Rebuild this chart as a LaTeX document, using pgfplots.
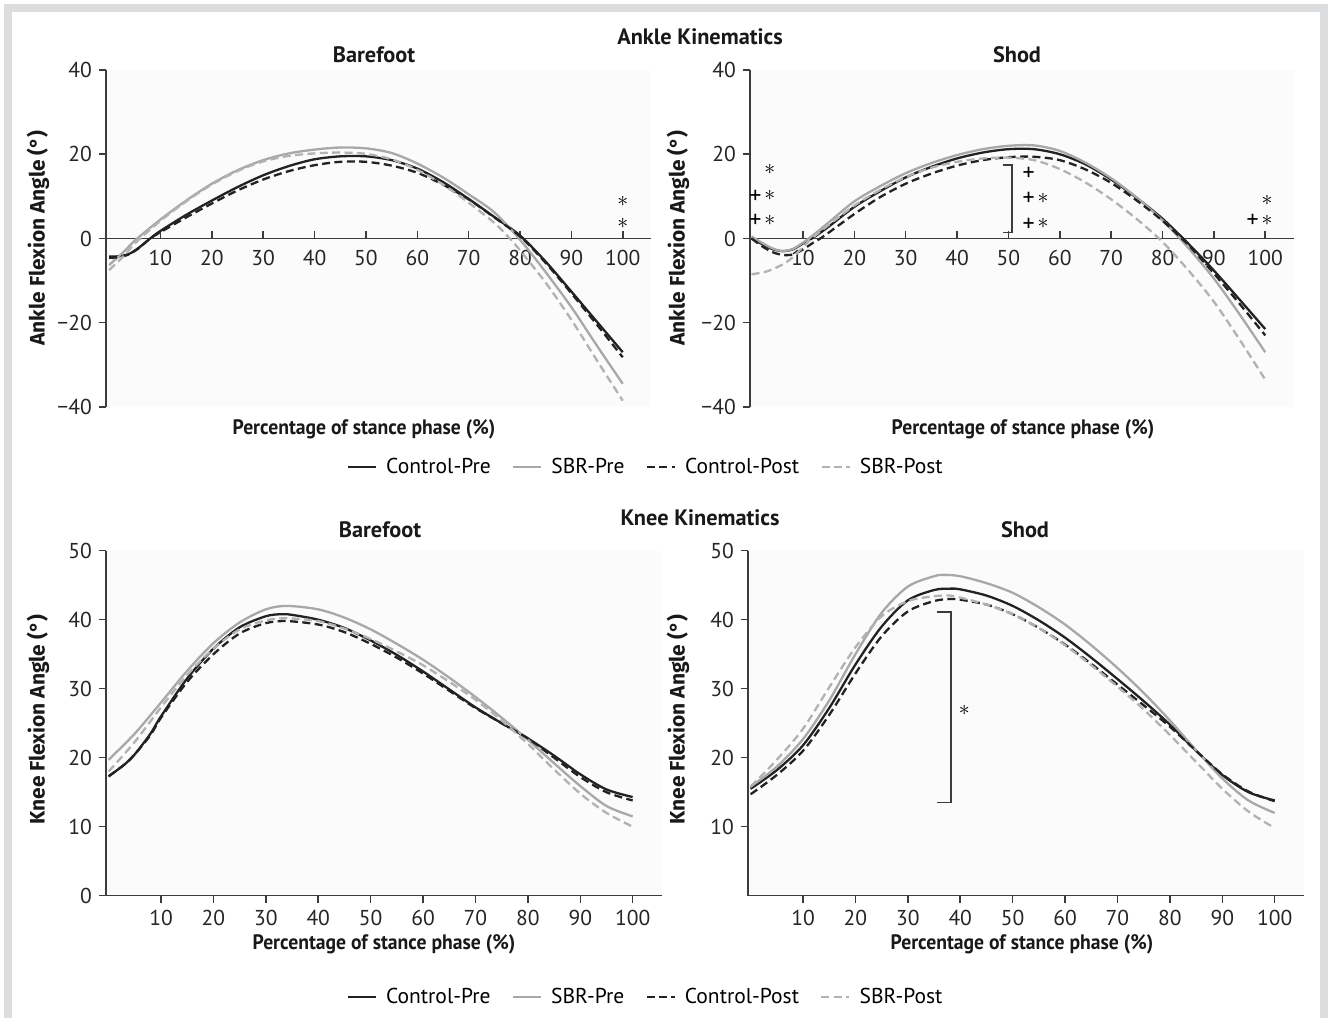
\documentclass[border=0pt]{standalone}
\usepackage{fontspec}
\setmainfont{PT Sans}
\newfontfamily\lab{PT Sans}[FakeStretch=0.94]
\newfontfamily\ylab{Fira Sans}
\usepackage{pgfplots}
\pgfplotsset{compat=1.18}

\definecolor{ctl}{HTML}{222222}
\definecolor{sbr}{HTML}{A8A8A8}
\definecolor{sbrd}{HTML}{B2B2B2}
\definecolor{axisc}{HTML}{3C3C3C}
\definecolor{framec}{HTML}{DCDDDF}

% significance marks
\newcommand{\st}{\raisebox{1.2bp}{\fontsize{11}{12}\selectfont$\ast$}}
\newcommand{\pl}{{\fontsize{12}{12}\selectfont +}}
\newcommand{\ps}{\pl\hspace{1.5bp}\st}

\pgfplotsset{
  kin/.style={
    scale only axis,
    axis background/.style={fill=black!1.5},
    tick style={axisc, line width=0.75bp},
    major tick length=3.6bp,
    tick label style={font=\fontsize{10.8}{12}\selectfont, text=black!85},
    /pgf/number format/assume math mode=true,
    hide obscured x ticks=false, hide obscured y ticks=false,
    xtick={10,20,...,100},
    xmin=-0.6, xmax=105.5,
  },
  nolinearrows/.style={
    axis line style={axisc, line width=0.75bp, -},
    x axis line style={-}, y axis line style={-},
    every inner x axis line/.append style={-},
    every inner y axis line/.append style={-},
    every outer x axis line/.append style={-},
    every outer y axis line/.append style={-},
  },
  ankle/.style={kin,
    height=168.5bp,
    ymin=-40, ymax=40,
    ytick={-40,-20,0,20,40}, yticklabels={−40,−20,0,20,40},
    axis x line=middle, axis y line=left,
    nolinearrows,
    xtick align=inside, ytick align=outside,
    xticklabel style={yshift=-2.5bp},
  },
  knee/.style={kin,
    height=172.5bp, width=278bp,
    ymin=0, ymax=50,
    axis x line=bottom, axis y line=left,
    nolinearrows,
    tick align=outside,
  },
  cpre/.style={ctl, line width=1.15bp, smooth},
  spre/.style={sbr, line width=1.15bp, smooth},
  cpost/.style={ctl, line width=1.15bp, dash pattern=on 4bp off 2.2bp, smooth},
  spost/.style={sbrd, line width=1.15bp, dash pattern=on 4bp off 2.2bp, smooth},
  leg/.style={legend columns=4,
    legend style={draw=none, fill=none, font=\fontsize{10.8}{12}\selectfont,
      /tikz/every odd column/.append style={column sep=2.5bp},
      /tikz/every even column/.append style={column sep=8.5bp}},
    legend image code/.code={\draw[##1, line width=1.3bp] (0bp,0bp) -- (14bp,0bp);},
  },
}

\begin{document}
\begin{tikzpicture}
\useasboundingbox (0,0) rectangle (665bp,509bp);
\fill[white] (0,0) rectangle (665bp,509bp);
\draw[framec, line width=4bp] (4bp,0) -- (4bp,505bp) -- (661.8bp,505bp) -- (661.8bp,0);

% ---------- Ankle, barefoot ----------
\begin{axis}[ankle, width=272.5bp, at={(53bp,305.5bp)}, anchor=south west, leg,
  legend style={at={(axis description cs:0.992,-0.178)}, anchor=center}]
\addplot[cpre] coordinates {(0,-4.3)(2,-4.2)(4,-3.6)(6,-2.0)(8,0)(10,1.8)(15,5.6)(20,9.0)(25,12.2)(30,15.0)(35,17.2)(40,18.8)(45,19.5)(50,19.5)(55,18.6)(60,16.6)(65,13.4)(70,9.4)(75,5.1)(80,0.7)(85,-5.5)(90,-12.6)(95,-19.8)(100,-27)};
\addlegendentry{Control-Pre}
\addplot[spre] coordinates {(0,-6.3)(3,-3)(5,-0.5)(10,4.5)(15,9.0)(20,13.0)(25,16.2)(30,18.6)(35,20.2)(40,21.1)(45,21.6)(50,21.4)(55,20.3)(60,17.8)(65,14.5)(70,10.5)(75,6.2)(80,-0.3)(85,-8.0)(90,-16.3)(95,-25.5)(100,-34.5)};
\addlegendentry{SBR-Pre}
\addplot[cpost] coordinates {(0,-4.6)(2,-4.4)(4,-3.7)(6,-2.1)(8,0)(10,1.5)(15,5.0)(20,8.3)(25,11.4)(30,14.0)(35,16.0)(40,17.4)(45,18.2)(50,18.2)(55,17.3)(60,15.6)(65,12.8)(70,9.3)(75,5.0)(80,0.5)(85,-5.8)(90,-13)(95,-20.5)(100,-28.2)};
\addlegendentry{Control-Post}
\addplot[spost] coordinates {(0,-7.5)(3,-4)(5,-1.2)(10,4.2)(15,8.8)(20,12.8)(25,16.0)(30,18.3)(35,19.6)(40,20.2)(45,20.4)(50,20.1)(55,18.8)(60,16.3)(65,12.8)(70,8.5)(75,3.7)(78,0)(80,-2.8)(85,-10.5)(90,-19.3)(95,-29)(100,-38.5)};
\addlegendentry{SBR-Post}
\node at (axis cs:100,8.4) {\st};
\node at (axis cs:100,3.3) {\st};
\end{axis}

% ---------- Ankle, shod ----------
\begin{axis}[ankle, width=272bp, at={(375bp,305.5bp)}, anchor=south west, xmin=-0.3, xmax=105.6]
\addplot[cpre] coordinates {(0,0)(2,-1.3)(4,-2.5)(6,-3.0)(8,-2.6)(10,-1.2)(12,0.2)(15,2.8)(20,7.5)(25,11.2)(30,14.5)(35,17.0)(40,19.0)(45,20.4)(50,21.2)(55,21.2)(60,20.0)(65,17.6)(70,14.0)(75,9.6)(80,4.7)(85,-1.2)(90,-7.6)(95,-14.5)(100,-21.5)};
\addplot[spre] coordinates {(0,0.5)(2,-1.0)(4,-2.3)(6,-3.0)(8,-2.5)(10,-1.0)(12,0.8)(15,3.8)(20,8.8)(25,12.4)(30,15.5)(35,17.9)(40,19.8)(45,21.2)(50,22.0)(55,22.1)(60,20.8)(65,18.0)(70,14.3)(75,9.7)(80,4.3)(85,-2.2)(90,-9.5)(95,-18)(100,-27)};
\addplot[cpost] coordinates {(0,0)(2,-1.8)(4,-3.2)(6,-3.9)(8,-3.8)(10,-2.6)(12,-1.0)(14,0.5)(20,5.8)(25,9.8)(30,13.0)(35,15.4)(40,17.3)(45,18.6)(50,19.3)(55,19.4)(60,18.6)(65,16.4)(70,13.2)(75,9.0)(80,4.2)(85,-1.5)(90,-8.3)(95,-15.5)(100,-23)};
\addplot[spost] coordinates {(0,-8.5)(3,-7.8)(6,-6.2)(8,-4.5)(10,-2.0)(12,0.3)(15,3.2)(20,7.8)(25,11.5)(30,14.6)(35,16.8)(40,18.2)(45,19.0)(50,19.2)(55,18.6)(60,16.5)(65,13.3)(70,9.3)(75,4.6)(80,-0.8)(85,-7.5)(90,-15)(95,-24)(100,-33.5)};
\node[anchor=east] at (axis cs:6.0,16) {\st};
\node[anchor=east] at (axis cs:6.0,10) {\ps};
\node[anchor=east] at (axis cs:6.0,4.1) {\ps};
\node[anchor=west] at (axis cs:51.4,15.3) {\pl};
\node[anchor=west] at (axis cs:51.4,9.3) {\ps};
\node[anchor=west] at (axis cs:51.4,3.3) {\ps};
\node[anchor=east] at (axis cs:102.8,8.8) {\st};
\node[anchor=east] at (axis cs:102.8,4.1) {\ps};
\draw[axisc, line width=0.75bp] (axis cs:48.9,17.4) -- (axis cs:50.7,17.4) -- (axis cs:50.7,1.4) -- (axis cs:48.9,1.4);
\end{axis}

% ---------- Knee, barefoot ----------
\begin{axis}[knee, at={(53bp,61.15bp)}, anchor=south west, xmin=-0.5, xmax=105.6,
  ytick={0,10,...,50}, leg,
  legend style={at={(axis description cs:0.972,-0.2936)}, anchor=center}]
\addplot[cpre] coordinates {(0,17.3)(3,19)(5,20.5)(8,23.5)(10,26)(15,31.5)(20,35.8)(25,38.9)(30,40.5)(33,40.8)(35,40.7)(40,40.0)(45,38.8)(50,37.0)(55,34.9)(60,32.5)(65,29.9)(70,27.3)(75,25.0)(80,22.8)(85,20.3)(90,17.6)(95,15.4)(100,14.3)};
\addlegendentry{Control-Pre}
\addplot[spre] coordinates {(0,19.7)(5,23.5)(10,28.0)(15,32.6)(20,36.6)(25,39.6)(30,41.5)(34,42.0)(40,41.5)(45,40.3)(50,38.6)(55,36.5)(60,34.2)(65,31.6)(70,28.8)(75,25.8)(80,22.6)(85,19.2)(90,15.9)(95,13.0)(100,11.5)};
\addlegendentry{SBR-Pre}
\addplot[cpost] coordinates {(0,17.3)(3,19)(5,20.5)(8,23.3)(10,25.8)(15,31.0)(20,35.0)(25,38.0)(30,39.5)(34,39.8)(40,39.3)(45,38.2)(50,36.5)(55,34.5)(60,32.2)(65,29.7)(70,27.2)(75,25.0)(80,22.8)(85,20.0)(90,17.2)(95,15.0)(100,13.8)};
\addlegendentry{Control-Post}
\addplot[spost] coordinates {(0,18.0)(5,22.3)(10,27.3)(15,32.0)(20,35.8)(25,38.6)(30,39.9)(34,40.2)(40,39.8)(45,38.7)(50,37.2)(55,35.4)(60,33.4)(65,31.0)(70,28.4)(75,25.4)(80,22.0)(85,18.3)(90,14.8)(95,12.0)(100,10.0)};
\addlegendentry{SBR-Post}
\end{axis}

% ---------- Knee, shod ----------
\begin{axis}[knee, at={(374bp,61.15bp)}, anchor=south west, xmin=-0.5, xmax=105.6,
  ytick={10,20,...,50}]
\addplot[cpre] coordinates {(0,15.5)(5,18.2)(10,21.8)(15,27.2)(20,33.5)(25,39.0)(30,42.8)(35,44.3)(38,44.5)(40,44.4)(45,43.5)(50,42.0)(55,39.9)(60,37.4)(65,34.5)(70,31.4)(75,28.2)(80,24.8)(85,21.0)(90,17.5)(95,15.0)(100,13.8)};
\addplot[spre] coordinates {(0,15.8)(5,18.7)(10,22.7)(15,28.3)(20,35.0)(25,41.0)(30,44.8)(35,46.3)(37,46.5)(40,46.3)(45,45.3)(50,43.9)(55,41.8)(60,39.3)(65,36.3)(70,33.0)(75,29.4)(80,25.4)(85,21.1)(90,17.0)(95,13.8)(100,12.0)};
\addplot[cpost] coordinates {(0,14.7)(5,17.5)(10,21.0)(15,26.2)(20,32.2)(25,37.6)(30,41.2)(35,42.7)(38,43.0)(40,42.9)(45,42.2)(50,40.8)(55,38.8)(60,36.4)(65,33.6)(70,30.6)(75,27.6)(80,24.5)(85,21.0)(90,17.6)(95,15.1)(100,13.7)};
\addplot[spost] coordinates {(0,15.8)(5,19.7)(10,24.2)(15,30.2)(20,36.0)(25,40.5)(30,42.7)(35,43.4)(38,43.5)(40,43.2)(45,42.2)(50,40.8)(55,38.8)(60,36.3)(65,33.4)(70,30.3)(75,27.0)(80,23.3)(85,19.4)(90,15.5)(95,12.2)(100,9.8)};
\draw[axisc, line width=0.75bp] (axis cs:35.6,41.1) -- (axis cs:38.2,41.1) -- (axis cs:38.2,13.5) -- (axis cs:35.6,13.5);
\node at (axis cs:40.8,26.7) {\st};
\end{axis}

% ---------- titles and labels ----------
\begin{scope}[every node/.style={font=\bfseries\fontsize{11.2}{13}\selectfont, text=black!90}]
\node at (350bp,490.5bp) {Ankle Kinematics};
\node at (187bp,481.5bp) {Barefoot};
\node at (508.5bp,481.5bp) {Shod};
\node at (350bp,250bp) {Knee Kinematics};
\node at (190bp,244bp) {Barefoot};
\node at (512.5bp,244bp) {Shod};
\end{scope}
\begin{scope}[every node/.style={font=\lab\bfseries\fontsize{10.5}{12}\selectfont, text=black!90}]
\node at (182bp,294.5bp) {Percentage of stance phase (\%)};
\node at (511.5bp,294.5bp) {Percentage of stance phase (\%)};
\node at (192bp,37bp) {Percentage of stance phase (\%)};
\node at (511bp,37bp) {Percentage of stance phase (\%)};
\end{scope}
\begin{scope}[every node/.style={font=\ylab\bfseries\fontsize{10.5}{12}\selectfont, text=black!90, rotate=90}]
\node at (19bp,390bp) {Ankle Flexion Angle (°)};
\node at (339bp,390bp) {Ankle Flexion Angle (°)};
\node at (19bp,149bp) {Knee Flexion Angle (°)};
\node at (339bp,149bp) {Knee Flexion Angle (°)};
\end{scope}
\end{tikzpicture}
\end{document}
